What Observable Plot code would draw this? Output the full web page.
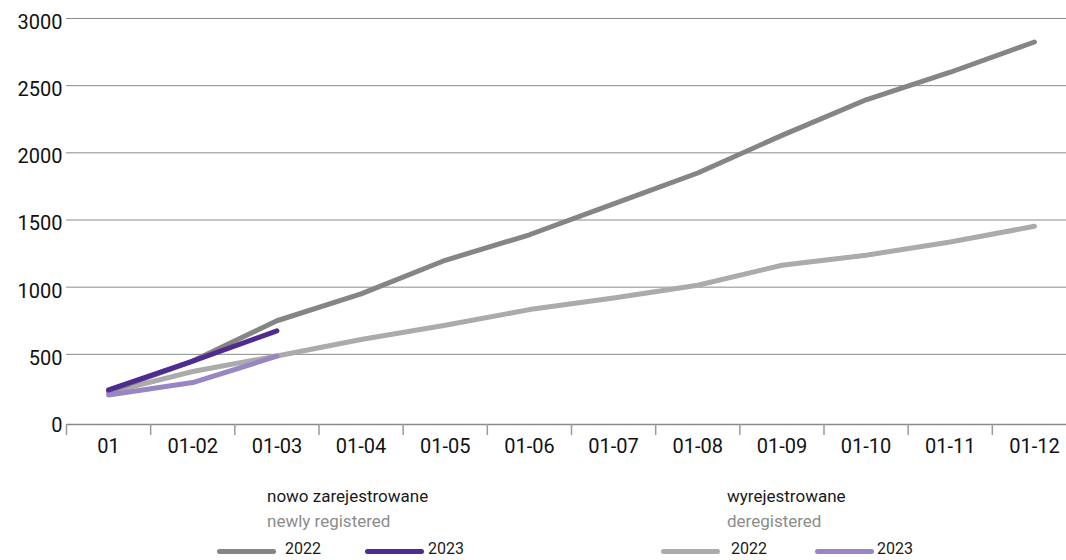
<!DOCTYPE html>
<html>
<head>
<meta charset="utf-8">
<script src="https://cdn.jsdelivr.net/npm/d3@7"></script>
<script src="https://cdn.jsdelivr.net/npm/@observablehq/plot@0.6"></script>
<style>
  html, body { margin: 0; padding: 0; background: #fff; }
  #wrap { position: relative; width: 1066px; height: 560px; overflow: hidden; font-family: Roboto, sans-serif; }
  .t { position: absolute; white-space: nowrap; line-height: 14px; font-size: 17px; }
  .t.small { font-size: 16px; }
  .title { color: #1a1a1a; }
  .sub { color: #8c8c8c; }
  .sw { position: absolute; height: 5px; border-radius: 3px; }
</style>
</head>
<body>
<div id="wrap"></div>
<script>
const months = ["01","01-02","01-03","01-04","01-05","01-06","01-07","01-08","01-09","01-10","01-11","01-12"];
const registered2022 = [225, 450, 750, 950, 1200, 1390, 1620, 1850, 2130, 2395, 2600, 2825];
const registered2023 = [235, 450, 675];
const deregistered2022 = [215, 372, 488, 610, 716, 833, 920, 1014, 1163, 1238, 1336, 1453];
const deregistered2023 = [198, 290, 486];
const yTicks = [0, 500, 1000, 1500, 2000, 2500, 3000];

const colors = {
  reg2022: "#858585",
  reg2023: "#4f2b8f",
  dereg2022: "#ababab",
  dereg2023: "#9a85c4"
};

const toRows = (arr) => arr.map((v, i) => ({x: i + 0.5, y: v}));
const boundaries = d3.range(0, months.length + 1);
const centers = months.map((m, i) => i + 0.5);

const lineOpts = (c) => ({x: "x", y: "y", stroke: c, strokeWidth: 5, strokeLinecap: "round", strokeLinejoin: "round"});

const chart = Plot.plot({
  width: 1066,
  height: 470,
  marginLeft: 66,
  marginRight: -10,
  marginTop: 18,
  marginBottom: 49,
  style: {fontFamily: "Roboto, sans-serif", background: "transparent"},
  x: {type: "linear", domain: [0, months.length], label: null},
  y: {domain: [0, 3000], label: null},
  marks: [
    Plot.gridY(yTicks.filter(d => d > 0), {stroke: "#8a8a8a", strokeOpacity: 1, strokeWidth: 1}),
    Plot.ruleY([0], {stroke: "#8a8a8a", strokeWidth: 1.5, dy: 3}),
    Plot.axisY(yTicks, {label: null, tickSize: 0, tickPadding: 4, fontSize: 20, fill: "#111", dy: 4, tickFormat: d => String(d)}),
    Plot.axisX(boundaries, {label: null, tickSize: 11, dy: 3, tickFormat: () => "", stroke: "#9a9a9a", strokeWidth: 1.5}),
    Plot.axisX(centers, {label: null, tickSize: 0, tickPadding: 17, fontSize: 20, fill: "#111", tickFormat: d => months[Math.floor(d)]}),
    Plot.line(toRows(deregistered2022), lineOpts(colors.dereg2022)),
    Plot.line(toRows(registered2022), lineOpts(colors.reg2022)),
    Plot.line(toRows(deregistered2023), lineOpts(colors.dereg2023)),
    Plot.line(toRows(registered2023), lineOpts(colors.reg2023))
  ]
});

const wrap = document.getElementById("wrap");
chart.style.position = "absolute";
chart.style.left = "0px";
chart.style.top = "0px";
wrap.appendChild(chart);

const legendGroups = [
  {title: "nowo zarejestrowane", sub: "newly registered", left: 267,
   items: [{label: "2022", color: colors.reg2022, sx: 217, tx: 285}, {label: "2023", color: colors.reg2023, sx: 365, tx: 428}]},
  {title: "wyrejestrowane", sub: "deregistered", left: 727,
   items: [{label: "2022", color: colors.dereg2022, sx: 661, tx: 731}, {label: "2023", color: colors.dereg2023, sx: 815, tx: 877}]}
];

function el(cls, text, left, top, extra) {
  const d = document.createElement("div");
  d.className = cls;
  if (text) d.textContent = text;
  d.style.left = left + "px";
  d.style.top = top + "px";
  if (extra) Object.assign(d.style, extra);
  wrap.appendChild(d);
  return d;
}

for (const g of legendGroups) {
  el("t title", g.title, g.left, 489);
  el("t sub", g.sub, g.left, 514);
  for (const it of g.items) {
    el("sw", null, it.sx, 549, {width: "59px", background: it.color});
    el("t title small", it.label, it.tx, 542);
  }
}
</script>
</body>
</html>
